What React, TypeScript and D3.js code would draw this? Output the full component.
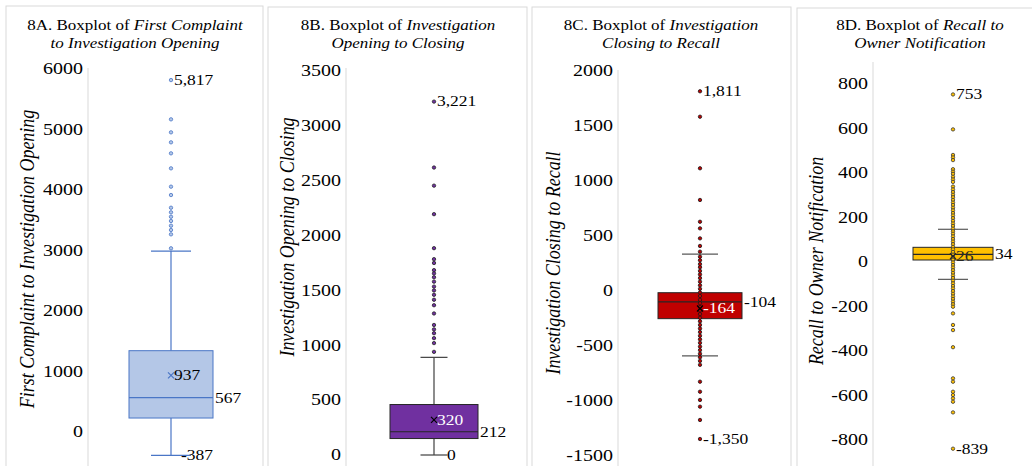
import React from 'react';
import * as d3 from 'd3';

// panel texts
const titleLead = ['8A. Boxplot of ', '8B. Boxplot of ', '8C. Boxplot of ', '8D. Boxplot of '];
const titleItalic1 = ['First Complaint', 'Investigation', 'Investigation', 'Recall to'];
const titleItalic2 = ['to Investigation Opening', 'Opening to Closing', 'Closing to Recall', 'Owner Notification'];
const axisTitles = [
  'First Complaint to Investigation Opening',
  'Investigation Opening to Closing',
  'Investigation Closing to Recall',
  'Recall to Owner Notification'
];

// y ticks
const ticksA = [0, 1000, 2000, 3000, 4000, 5000, 6000];
const ticksB = [0, 500, 1000, 1500, 2000, 2500, 3000, 3500];
const ticksC = [-1500, -1000, -500, 0, 500, 1000, 1500, 2000];
const ticksD = [-800, -600, -400, -200, 0, 200, 400, 600, 800];

// box stats: [whisker low, Q1, median, Q3, whisker high, mean]
const statsA = [-387, 231, 567, 1344, 2990, 937];
const statsB = [0, 150, 212, 460, 890, 320];
const statsC = [-595, -256, -104, -20, 330, -164];
const statsD = [-78, 9, 34, 66, 147, 26];

// plotted points
const pointsA = [5817, 5168, 4953, 4788, 4606, 4358, 4055, 3917, 3707, 3631, 3558, 3488, 3410, 3339, 3267, 3036];
const pointsB = [3221, 2620, 2455, 2195, 1885, 1785, 1750, 1685, 1655, 1620, 1580, 1535, 1500, 1460, 1415, 1365,
  1290, 1185, 1145, 1110, 1065, 1020, 940];
const pointsC = [1811, 1580, 1111, 823, 625, 565, 474, 405, 353, 307, 275, 240, 212, 178, 146, 113, 80, 47, 15,
  -18, -50, -85, -116, -150, -182, -215, -248, -280, -313, -346, -378, -412, -444, -476, -510, -542, -575, -607,
  -640, -676, -829, -920, -995, -1056, -1177, -1350];
const pointsD = [753, 596, 481, 470, 458, 417, 406, 396, 383, 371, 360, 339, 326, 314, 302, 291, 279, 267, 256,
  244, 232, 220, 209, 197, 185, 173, 162, 150, 138, 127, 115, 103, 92, 80, 68, 57, 45, 33, 21, 10, -2, -14, -25,
  -37, -49, -61, -72, -84, -96, -108, -119, -131, -143, -155, -166, -178, -190, -201, -231, -283, -306, -383,
  -523, -538, -583, -598, -613, -628, -676, -839];

// labelled low value (whisker end or lowest point)
const lowLabels = [-387, 0, -1350, -839];

const ticks = [ticksA, ticksB, ticksC, ticksD];
const stats = [statsA, statsB, statsC, statsD];
const points = [pointsA, pointsB, pointsC, pointsD];

const layout = [
  { left: 6, right: 263, top: 6, titleX: 135, axisX: 88, axisTop: 68, cx: 171, boxW: 84, capW: 40, range: [432, 69], atX: 27, atY: 259, lowDx: 10 },
  { left: 268, right: 527, top: 7, titleX: 398, axisX: 346, axisTop: 68, cx: 434, boxW: 88, capW: 27, range: [455, 71], atX: 287, atY: 237, lowDx: 13 },
  { left: 532, right: 791, top: 7, titleX: 661, axisX: 618, axisTop: 70, cx: 700, boxW: 84, capW: 36, range: [455.5, 70.5], atX: 553, atY: 263, lowDx: 3 },
  { left: 797, right: 1040, top: 8, titleX: 920, axisX: 873, axisTop: 62, cx: 953, boxW: 80, capW: 30, range: [440, 84], atX: 816, atY: 261, lowDx: 3 }
];

const colors = [
  { fill: '#b4c7e7', stroke: '#4a76c6', whisker: '#4a76c6', dot: '#b4c7e7', dotStroke: '#4a76c6', mean: '#4a76c6', meanText: '#000' },
  { fill: '#7030a0', stroke: '#262626', whisker: '#404040', dot: '#7030a0', dotStroke: '#262626', mean: '#000', meanText: '#fff' },
  { fill: '#c00000', stroke: '#262626', whisker: '#595959', dot: '#c00000', dotStroke: '#1a1a1a', mean: '#000', meanText: '#fff' },
  { fill: '#ffc000', stroke: '#262626', whisker: '#595959', dot: '#ffc000', dotStroke: '#3a3a3a', mean: '#262626', meanText: '#262626' }
];

const K = 1.25; // horizontal stretch of the source image text
const FONT = "'Liberation Serif', 'Times New Roman', serif";
const fmt = (v: number) => d3.format(',')(v).replace('\u2212', '-');

const Label = ({ x, y, size, anchor = 'start', italic = false, fill = '#000', rotate = false, k = K, children }: any) => (
  <text
    transform={`translate(${x},${y}) scale(${k},1)${rotate ? ' rotate(-90)' : ''}`}
    fontSize={size}
    textAnchor={anchor}
    dominantBaseline="central"
    fontStyle={italic ? 'italic' : 'normal'}
    fill={fill}
    fontFamily={FONT}
  >
    {children}
  </text>
);

const Panel = ({ i }: { i: number }) => {
  const L = layout[i];
  const c = colors[i];
  const tk = ticks[i];
  const [lo, q1, med, q3, hi, mean] = stats[i];
  const y = d3.scaleLinear().domain(d3.extent(tk) as [number, number]).range(L.range);
  const cx = L.cx;
  const pts = points[i];
  const top = d3.max(pts) as number;
  const lowY = y(lowLabels[i]);

  return (
    <g>
      <rect x={L.left} y={L.top} width={L.right - L.left} height={480} fill="#fff" stroke="#d9d9d9" />
      <text x={L.titleX} y={30} fontSize={13.6} textAnchor="middle" fontFamily={FONT} transform={`translate(${L.titleX * (1 - K)},0) scale(${K},1)`}>
        {titleLead[i]}
        <tspan fontStyle="italic">{titleItalic1[i]}</tspan>
      </text>
      <Label x={L.titleX} y={43} size={13.6} anchor="middle" italic>
        {titleItalic2[i]}
      </Label>

      <line x1={L.axisX} x2={L.axisX} y1={L.axisTop} y2={466} stroke="#d9d9d9" />
      {tk.map(t => (
        <Label key={t} x={L.axisX - 5} y={y(t)} size={16} anchor="end">
          {t}
        </Label>
      ))}
      <Label x={L.atX} y={L.atY} size={18} anchor="middle" italic rotate k={1.15}>
        {axisTitles[i]}
      </Label>

      {/* whiskers */}
      <line x1={cx} x2={cx} y1={y(q3)} y2={y(hi)} stroke={c.whisker} strokeWidth={1.2} />
      <line x1={cx} x2={cx} y1={y(q1)} y2={y(lo)} stroke={c.whisker} strokeWidth={1.2} />
      <line x1={cx - L.capW / 2} x2={cx + L.capW / 2} y1={y(hi)} y2={y(hi)} stroke={c.whisker} strokeWidth={1.2} />
      <line x1={cx - L.capW / 2} x2={cx + L.capW / 2} y1={y(lo)} y2={y(lo)} stroke={c.whisker} strokeWidth={1.2} />

      {/* box */}
      <rect x={cx - L.boxW / 2} y={y(q3)} width={L.boxW} height={y(q1) - y(q3)} fill={c.fill} stroke={c.stroke} strokeWidth={1} />
      <line x1={cx - L.boxW / 2} x2={cx + L.boxW / 2} y1={y(med)} y2={y(med)} stroke={c.stroke} strokeWidth={1.2} />

      {/* points */}
      {pts.map((p, j) => (
        <circle key={j} cx={cx} cy={y(p)} r={1.7} fill={c.dot} stroke={c.dotStroke} strokeWidth={0.8} />
      ))}

      {/* mean marker */}
      <path
        d={`M${cx - 3},${y(mean) - 3}L${cx + 3},${y(mean) + 3}M${cx - 3},${y(mean) + 3}L${cx + 3},${y(mean) - 3}`}
        stroke={c.mean}
        strokeWidth={1.2}
      />

      {/* data labels */}
      <Label x={cx + 3} y={y(top)} size={14}>{fmt(top)}</Label>
      <Label x={cx + 3} y={y(mean)} size={14} fill={c.meanText}>{fmt(mean)}</Label>
      <Label x={cx + L.boxW / 2 + 2} y={y(med)} size={14}>{fmt(med)}</Label>
      <Label x={cx + L.lowDx} y={lowY} size={14}>{fmt(lowLabels[i])}</Label>
    </g>
  );
};

export default function App() {
  return (
    <svg width={1032} height={466} style={{ position: 'absolute', left: 0, top: 0, background: '#fff' }}>
      {[0, 1, 2, 3].map(i => (
        <Panel key={i} i={i} />
      ))}
    </svg>
  );
}
